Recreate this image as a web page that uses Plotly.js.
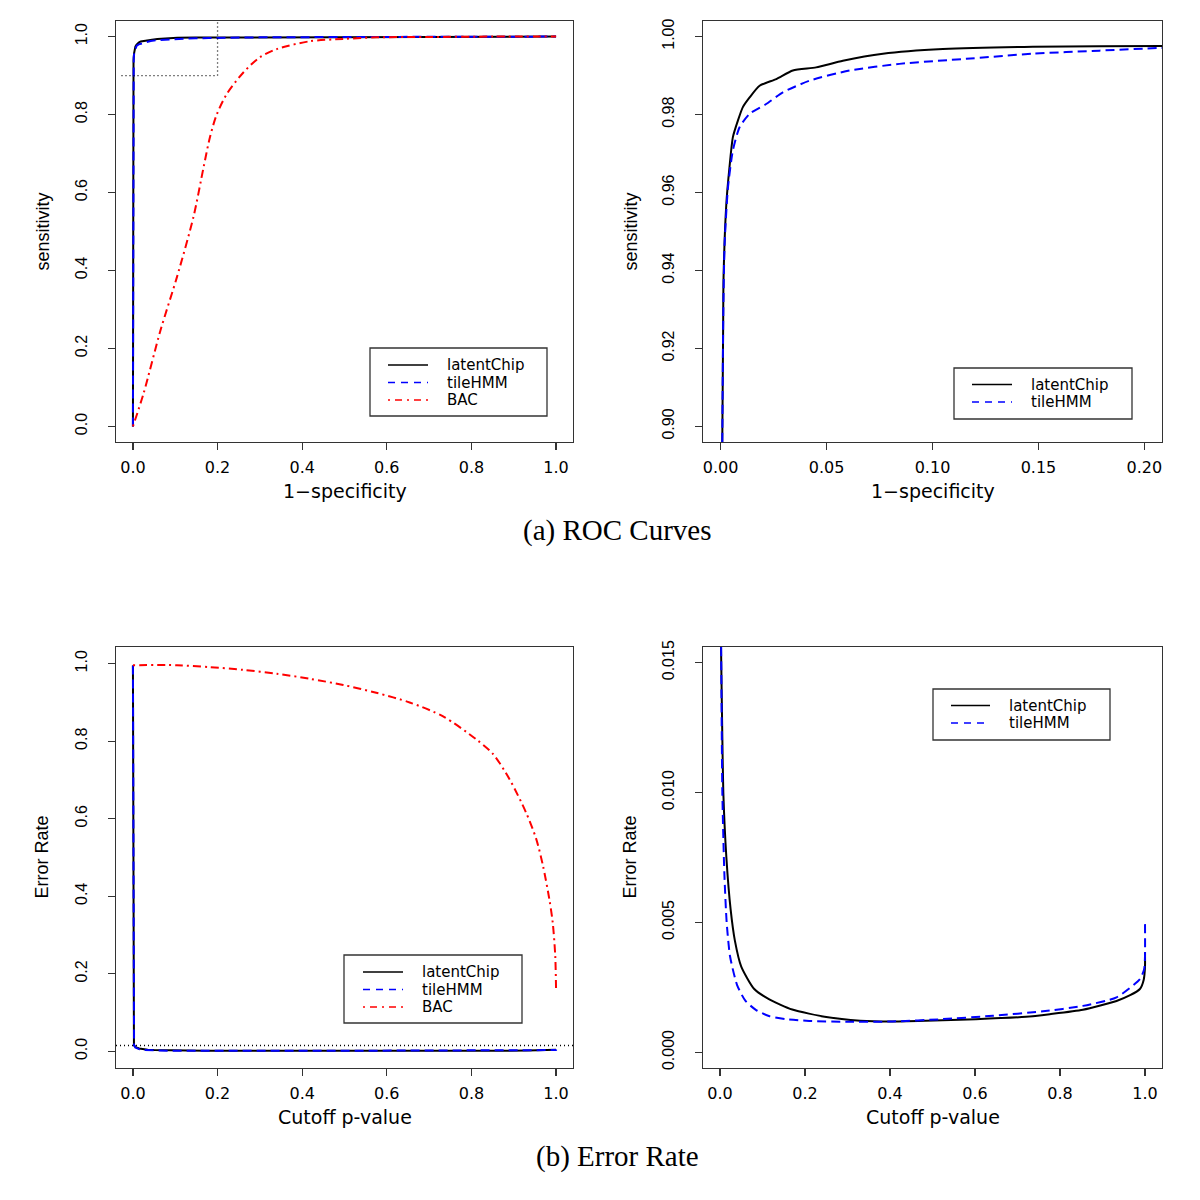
<!DOCTYPE html>
<html><head><meta charset="utf-8">
<script src="https://cdn.plot.ly/plotly-3.0.1.min.js"></script>
<style>body{margin:0;background:#fff}</style>
</head><body><div id="chart" style="width:1200px;height:1200px"></div>
<script>
// ---------- ROC data (1-specificity vs sensitivity) ----------
const rocFprLatent = [0, 0.0006, 0.0008, 0.0012, 0.0014, 0.0027, 0.0042, 0.0058, 0.0082, 0.0105, 0.0137, 0.0184, 0.0263, 0.0341, 0.0451, 0.0577, 0.0766, 0.1049, 0.1473, 0.2082, 0.3, 0.5, 0.75, 1.0];
const rocTprLatent = [0, 0.70, 0.896, 0.925, 0.9383, 0.957, 0.9665, 0.9742, 0.9785, 0.9819, 0.9844, 0.9874, 0.9891, 0.9913, 0.9921, 0.9938, 0.9956, 0.9968, 0.9974, 0.9976, 0.9982, 0.999, 0.9995, 1.0];
const rocFprTile = [0, 0.0006, 0.0008, 0.0013, 0.0019, 0.0035, 0.0058, 0.009, 0.0137, 0.0215, 0.0294, 0.042, 0.0608, 0.0844, 0.1159, 0.1473, 0.1788, 0.2082, 0.3, 0.5, 0.75, 1.0];
const rocTprTile = [0, 0.70, 0.896, 0.93, 0.9468, 0.9614, 0.9708, 0.9768, 0.9802, 0.9827, 0.9857, 0.9887, 0.9913, 0.993, 0.9943, 0.9956, 0.9964, 0.9971, 0.998, 0.999, 0.9995, 1.0];
const rocFprBAC = [0.0, 0.025, 0.065, 0.104, 0.143, 0.167, 0.182, 0.198, 0.222, 0.261, 0.300, 0.340, 0.418, 0.497, 0.575, 0.7, 0.85, 1.0];
const rocTprBAC = [0.0, 0.084, 0.246, 0.383, 0.537, 0.665, 0.742, 0.80, 0.853, 0.908, 0.947, 0.968, 0.988, 0.994, 0.998, 0.999, 1.0, 1.0];

// ---------- Error rate data (cutoff p-value vs error rate) ----------
const errCutLatent = [0, 0.0015, 0.0024, 0.0055, 0.0078, 0.015, 0.025, 0.035, 0.05, 0.08, 0.115, 0.17, 0.25, 0.33, 0.40, 0.484, 0.602, 0.72, 0.776, 0.854, 0.933, 0.965, 0.988, 0.997, 1.0, 1.0];
const errLatent = [0.995, 0.10, 0.0156, 0.0121, 0.010, 0.0075, 0.0055, 0.0043, 0.0033, 0.00245, 0.00205, 0.00165, 0.00136, 0.00122, 0.00119, 0.00122, 0.00128, 0.00137, 0.00147, 0.00164, 0.00198, 0.0022, 0.00244, 0.0028, 0.0033, 0.00385];
const errCutTile = [0, 0.0015, 0.0027, 0.0055, 0.0102, 0.0157, 0.0236, 0.04, 0.06, 0.085, 0.115, 0.155, 0.21, 0.30, 0.406, 0.524, 0.642, 0.76, 0.854, 0.933, 0.988, 0.998, 1.0, 1.0];
const errTile = [0.995, 0.10, 0.0156, 0.010, 0.0069, 0.005, 0.0037, 0.0026, 0.00198, 0.00163, 0.0014, 0.00128, 0.00121, 0.00118, 0.00119, 0.00128, 0.00141, 0.00158, 0.00179, 0.00212, 0.00282, 0.0032, 0.0037, 0.005];
const errCutBAC = [0.0, 0.104, 0.182, 0.261, 0.340, 0.418, 0.497, 0.575, 0.654, 0.733, 0.811, 0.851, 0.890, 0.929, 0.953, 0.969, 0.984, 0.992, 0.998, 1.0];
const errBAC = [0.996, 0.996, 0.991, 0.984, 0.974, 0.961, 0.945, 0.925, 0.900, 0.864, 0.805, 0.767, 0.702, 0.616, 0.548, 0.479, 0.393, 0.333, 0.247, 0.157];

// reference lines
const rocRefFpr = 0.2, rocRefTpr = 0.9;
const errRefLine = 0.015;

// tick labels
const tickFull = [0, 0.2, 0.4, 0.6, 0.8, 1.0];
const tickFullText = ['0.0', '0.2', '0.4', '0.6', '0.8', '1.0'];
const tickZoomX = [0, 0.05, 0.10, 0.15, 0.20];
const tickZoomXText = ['0.00', '0.05', '0.10', '0.15', '0.20'];
const tickZoomY = [0.90, 0.92, 0.94, 0.96, 0.98, 1.00];
const tickZoomYText = ['0.90', '0.92', '0.94', '0.96', '0.98', '1.00'];
const tickErrY = [0, 0.005, 0.010, 0.015];
const tickErrYText = ['0.000', '0.005', '0.010', '0.015'];

const seriesNames = ['latentChip', 'tileHMM', 'BAC'];

// ---------- styling ----------
const W = 1200, H = 1200;
const px = v => v / W;
const py = v => 1 - v / H;
const FRAME = '#333';
const hFont = 'DejaVu Sans, Liberation Sans, sans-serif';
const vFont = 'Liberation Sans, Arial, sans-serif';
const styles = {
  latentChip: {color: '#000000', width: 2, dash: 'solid'},
  tileHMM: {color: '#0000ff', width: 2, dash: '9px,5px'},
  BAC: {color: '#ff0000', width: 2, dash: '2px,4px,8px,4px'}
};
const legStyles = {
  latentChip: {color: '#000000', width: 1.6, dash: 'solid'},
  tileHMM: {color: '#0000ff', width: 1.6, dash: '7px,6px'},
  BAC: {color: '#ff0000', width: 1.6, dash: '2px,5px,7px,5px'}
};

function tr(x, y, name, xa, ya, shape) {
  const line = Object.assign({}, styles[name]);
  if (shape) { line.shape = 'spline'; line.smoothing = shape; }
  return {type: 'scatter', mode: 'lines', x: x, y: y, name: name, xaxis: xa, yaxis: ya,
    line: line, showlegend: false, hoverinfo: 'skip'};
}
// keep only the points that fall in (or just at the edge of) a zoomed window
function inWindow(xs, ys, yMin, yMax) {
  const ox = [], oy = [];
  xs.forEach((x, i) => { if (ys[i] >= yMin && ys[i] <= yMax) { ox.push(x); oy.push(ys[i]); } });
  return [ox, oy];
}
const trLat = inWindow(rocFprLatent, rocTprLatent, 0.896, 1.01);
const trTile = inWindow(rocFprTile, rocTprTile, 0.896, 1.01);
const brLat = inWindow(errCutLatent, errLatent, -1, 0.0157);
const brTile = inWindow(errCutTile, errTile, -1, 0.0157);

const data = [
  tr(rocFprLatent, rocTprLatent, 'latentChip', 'x', 'y'),
  tr(rocFprTile, rocTprTile, 'tileHMM', 'x', 'y'),
  tr(rocFprBAC, rocTprBAC, 'BAC', 'x', 'y', 0.8),
  tr(trLat[0], trLat[1], 'latentChip', 'x2', 'y2', 0.6),
  tr(trTile[0], trTile[1], 'tileHMM', 'x2', 'y2', 0.6),
  tr(errCutLatent, errLatent, 'latentChip', 'x3', 'y3'),
  tr(errCutTile, errTile, 'tileHMM', 'x3', 'y3'),
  tr(errCutBAC, errBAC, 'BAC', 'x3', 'y3', 0.8),
  tr(brLat[0], brLat[1], 'latentChip', 'x4', 'y4', 0.6),
  tr(brTile[0], brTile[1], 'tileHMM', 'x4', 'y4', 0.6)
];

const axBase = {showgrid: false, zeroline: false, showline: true, mirror: true,
  linecolor: FRAME, linewidth: 1.3, ticks: 'outside', ticklen: 7, tickwidth: 1.3,
  tickcolor: FRAME, fixedrange: true};
function xax(domain, range, tv, tt, anchor) {
  return Object.assign({}, axBase, {domain: domain, range: range, tickvals: tv, ticktext: tt,
    anchor: anchor, tickfont: {family: hFont, size: 16, color: '#000'}, ticklabelstandoff: 3});
}
function yax(domain, range, tv, tt, anchor) {
  return Object.assign({}, axBase, {domain: domain, range: range, tickvals: tv, ticktext: tt,
    anchor: anchor, tickangle: -90, tickfont: {family: vFont, size: 16, color: '#000'}, ticklabelstandoff: 14});
}

const colL = [px(116), px(573)], colR = [px(703), px(1162)];
const rowT = [py(442), py(21)], rowB = [py(1068), py(647)];

const shapes = [
  {type: 'line', xref: 'x', yref: 'y', x0: -0.027, x1: rocRefFpr, y0: rocRefTpr, y1: rocRefTpr,
    line: {color: '#000', width: 1.3, dash: '1px,3px'}},
  {type: 'line', xref: 'x', yref: 'y', x0: rocRefFpr, x1: rocRefFpr, y0: rocRefTpr, y1: 1.04,
    line: {color: '#000', width: 1.3, dash: '1px,3px'}},
  {type: 'line', xref: 'x3 domain', yref: 'y3', x0: 0, x1: 1, y0: errRefLine, y1: errRefLine,
    line: {color: '#000', width: 1.3, dash: '1px,3px'}}
];
const annotations = [];

function legend(box, s0, s1, tx, rows, names) {
  shapes.push({type: 'rect', xref: 'paper', yref: 'paper', x0: px(box[0]), x1: px(box[1]),
    y0: py(box[3]), y1: py(box[2]), fillcolor: '#fff', line: {color: FRAME, width: 1.3}});
  names.forEach((n, i) => {
    shapes.push({type: 'line', xref: 'paper', yref: 'paper', x0: px(s0), x1: px(s1),
      y0: py(rows[i]), y1: py(rows[i]), line: legStyles[n]});
    annotations.push({xref: 'paper', yref: 'paper', x: px(tx), y: py(rows[i]), text: n,
      showarrow: false, xanchor: 'left', yanchor: 'middle', borderpad: 0,
      font: {family: hFont, size: 15, color: '#000'}});
  });
}
legend([370, 547, 348, 416], 388, 428, 446, [365, 382.5, 400], seriesNames);
legend([954, 1132, 368, 419], 972, 1012, 1030, [384.5, 402], seriesNames.slice(0, 2));
legend([344, 522, 955, 1023], 363, 403, 421, [972, 989.5, 1007], seriesNames);
legend([933, 1110, 689, 740], 951, 990, 1008, [705.5, 723], seriesNames.slice(0, 2));

function label(x, y, text, angle, fam, size) {
  annotations.push({xref: 'paper', yref: 'paper', x: px(x), y: py(y), text: text,
    showarrow: false, xanchor: 'center', yanchor: 'middle', textangle: angle || 0,
    font: {family: fam, size: size, color: '#000'}});
}
label(344.5, 491, '1\u2212specificity', 0, hFont, 19);
label(932.5, 491, '1\u2212specificity', 0, hFont, 19);
label(344.5, 1117, 'Cutoff p-value', 0, hFont, 19);
label(932.5, 1117, 'Cutoff p-value', 0, hFont, 19);
label(43, 231.5, 'sensitivity', -90, vFont, 18);
label(631, 231.5, 'sensitivity', -90, vFont, 18);
label(41, 857.5, 'Error Rate', -90, vFont, 18);
label(629, 857.5, 'Error Rate', -90, vFont, 18);
label(617, 530, '(a) ROC Curves', 0, 'Liberation Serif, DejaVu Serif, serif', 29);
label(617, 1156, '(b) Error Rate', 0, 'Liberation Serif, DejaVu Serif, serif', 29);

const layout = {
  width: W, height: H, margin: {l: 0, r: 0, t: 0, b: 0},
  paper_bgcolor: '#fff', plot_bgcolor: '#fff', showlegend: false,
  xaxis: xax(colL, [-0.04, 1.04], tickFull, tickFullText, 'y'),
  yaxis: yax(rowT, [-0.04, 1.04], tickFull, tickFullText, 'x'),
  xaxis2: xax(colR, [-0.0083, 0.2083], tickZoomX, tickZoomXText, 'y2'),
  yaxis2: yax(rowT, [0.896, 1.004], tickZoomY, tickZoomYText, 'x2'),
  xaxis3: xax(colL, [-0.04, 1.04], tickFull, tickFullText, 'y3'),
  yaxis3: yax(rowB, [-0.043, 1.043], tickFull, tickFullText, 'x3'),
  xaxis4: xax(colR, [-0.04, 1.04], tickFull, tickFullText, 'y4'),
  yaxis4: yax(rowB, [-0.0006, 0.0156], tickErrY, tickErrYText, 'x4'),
  shapes: shapes, annotations: annotations
};

Plotly.newPlot('chart', data, layout, {displayModeBar: false, staticPlot: true});
</script>
</body></html>
